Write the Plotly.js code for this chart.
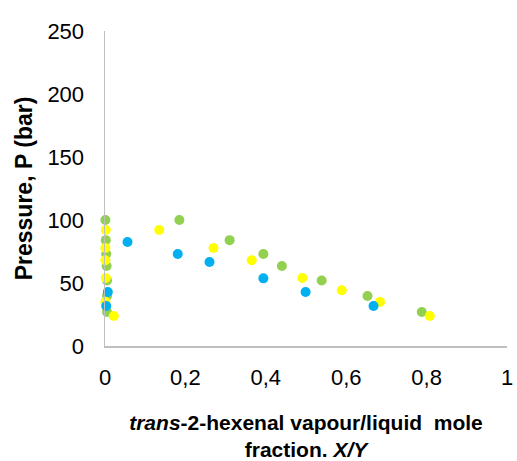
<!DOCTYPE html>
<html>
<head>
<meta charset="utf-8">
<script src="https://cdn.plot.ly/plotly-3.0.1.min.js"></script>
<style>html,body{margin:0;padding:0;background:#fff;}#chart{width:517px;height:461px;}</style>
</head>
<body>
<div id="chart"></div>
<script>
// Green series (liquid + vapour)
var greenX = [0.185, 0.310, 0.394, 0.440, 0.539, 0.653, 0.788, 0.001, 0.002, 0.003, 0.004, 0.005, 0.005, 0.005];
var greenP = [100, 84, 73, 63.5, 52, 39.7, 27, 100, 84, 73, 63.5, 52, 39.7, 27];
// Yellow series
var yellowX = [0.135, 0.270, 0.365, 0.491, 0.589, 0.684, 0.808, 0.002, 0.001, 0.001, 0.002, -0.005, 0.001, 0.022];
var yellowP = [92, 77.8, 68, 54, 44.2, 35, 23.8, 92, 77.8, 68, 54, 44.2, 35, 23.8];
// Blue series
var blueX = [0.056, 0.181, 0.260, 0.394, 0.499, 0.668, -0.002, -0.002, -0.002, -0.002, 0.007, 0.003];
var blueP = [82.5, 73, 66.7, 53.7, 42.9, 31.7, 82.5, 73, 66.7, 53.7, 42.9, 31.7];

var xTickVals = [0, 0.2, 0.4, 0.6, 0.8, 1];
var yTickVals = [0, 50, 100, 150, 200, 250];

function series(x, y, color) {
  return {x: x, y: y, type: 'scatter', mode: 'markers', cliponaxis: false,
    marker: {size: 10, color: color, line: {width: 0}}, hoverinfo: 'none', showlegend: false};
}

var data = [
  series(greenX, greenP, '#92D050'),
  series(yellowX, yellowP, '#FFFF00'),
  series(blueX, blueP, '#00B0F0')
];

var font = 'Liberation Sans, Arial, sans-serif';
var layout = {
  width: 517, height: 461,
  margin: {l: 105, r: 10, t: 31, b: 115},
  paper_bgcolor: '#fff', plot_bgcolor: '#fff',
  separators: ',.',
  font: {family: font, color: '#000'},
  showlegend: false,
  xaxis: {
    range: [0, 1], tickvals: xTickVals, showgrid: false, zeroline: false,
    showline: true, linecolor: '#BFBFBF', linewidth: 1.5,
    ticks: '', ticklabelstandoff: 11,
    tickfont: {family: font, size: 22, color: '#000'},
    title: {text: '<b><i>trans</i>-2-hexenal vapour/liquid  mole<br>fraction. <i>X/Y</i></b>',
      font: {family: font, size: 21, color: '#000'}, standoff: 26}
  },
  yaxis: {
    range: [0, 250], tickvals: yTickVals, showgrid: false, zeroline: false,
    showline: true, linecolor: '#BFBFBF', linewidth: 1.5,
    ticks: '', ticklabelstandoff: 15,
    tickfont: {family: font, size: 22, color: '#000'},
    title: {text: '<b>Pressure, P (bar)</b>', font: {family: font, size: 23, color: '#000'}, standoff: 8}
  }
};

Plotly.newPlot('chart', data, layout, {displayModeBar: false, staticPlot: true});
</script>
</body>
</html>
